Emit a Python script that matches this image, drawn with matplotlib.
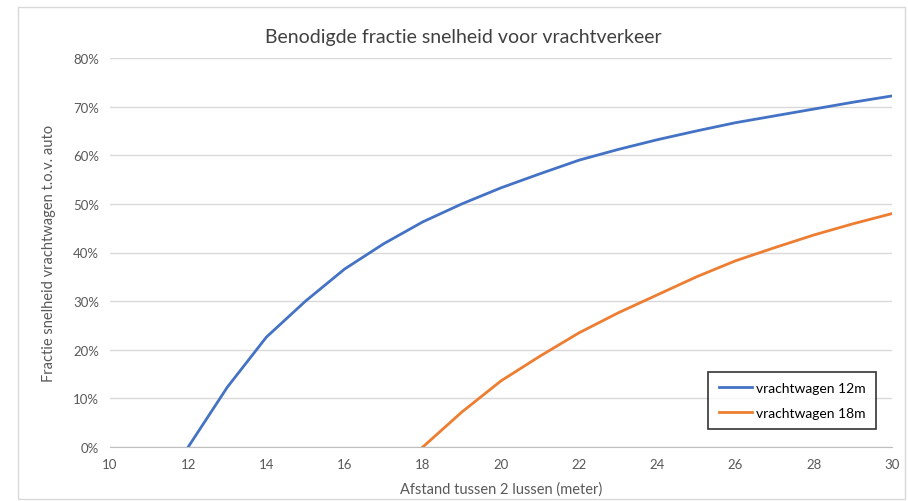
import matplotlib.pyplot as plt
from matplotlib.patches import Rectangle
from matplotlib.ticker import PercentFormatter

# afstand tussen 2 lussen (meter)
afstand_12 = [12, 13, 14, 15, 16, 17, 18, 19, 20, 21, 22, 23, 24, 25, 26, 27, 28, 29, 30]
fractie_12 = [0.0, 0.123, 0.226, 0.300, 0.366, 0.418, 0.463, 0.500, 0.533, 0.562,
              0.590, 0.612, 0.632, 0.650, 0.667, 0.681, 0.695, 0.709, 0.722]
afstand_18 = [18, 19, 20, 21, 22, 23, 24, 25, 26, 27, 28, 29, 30]
fractie_18 = [0.0, 0.072, 0.136, 0.187, 0.235, 0.276, 0.313, 0.350, 0.383, 0.410,
              0.436, 0.459, 0.480]
x_ticks = list(range(10, 31, 2))
y_ticks = [0, 0.1, 0.2, 0.3, 0.4, 0.5, 0.6, 0.7, 0.8]

plt.rcParams['font.family'] = ['Lato', 'DejaVu Sans']

fig = plt.figure(figsize=(9.08, 5.02), dpi=100)
ax = fig.add_axes([110 / 908, 1 - 448 / 502, (892 - 110) / 908, (448 - 59) / 502])

# outer chart frame
fig.patches.append(Rectangle((18 / 908, 2 / 502), 887 / 908, 492 / 502, transform=fig.transFigure,
                             fill=False, edgecolor='#D9D9D9', linewidth=1))

ax.plot(afstand_12, fractie_12, color='#4472C4', linewidth=2, label='vrachtwagen 12m')
ax.plot(afstand_18, fractie_18, color='#ED7D31', linewidth=2, label='vrachtwagen 18m')

ax.set_xlim(10, 30)
ax.set_ylim(0, 0.8)
ax.set_xticks(x_ticks)
ax.set_yticks(y_ticks)
ax.yaxis.set_major_formatter(PercentFormatter(1.0, decimals=0))
ax.grid(axis='y', color='#D9D9D9', linewidth=1)
ax.set_axisbelow(True)
for side in ['top', 'right', 'left']:
    ax.spines[side].set_visible(False)
ax.spines['bottom'].set_color('#BFBFBF')
ax.tick_params(axis='both', length=0, colors='#595959', labelsize=9.5)
ax.tick_params(axis='x', pad=8)
ax.tick_params(axis='y', pad=8)

# title is centred on the chart area, not on the plot area
fig.text(463 / 908, 1 - 37 / 502, 'Benodigde fractie snelheid voor vrachtverkeer',
         fontsize=14, color='#404040', ha='center', va='center')
ax.set_xlabel('Afstand tussen 2 lussen (meter)', fontsize=10.5, color='#595959', labelpad=8)
ax.set_ylabel('Fractie snelheid vrachtwagen t.o.v. auto', fontsize=10.5, color='#595959', labelpad=12)

leg = ax.legend(loc='lower left', bbox_to_anchor=(0.756, 0.028), fontsize=10, frameon=True,
                fancybox=False, edgecolor='black', handlelength=2.4, handletextpad=0.3,
                borderpad=0.75, labelspacing=0.9)
leg.get_frame().set_linewidth(1.2)

fig.savefig('out.png', dpi=100)
